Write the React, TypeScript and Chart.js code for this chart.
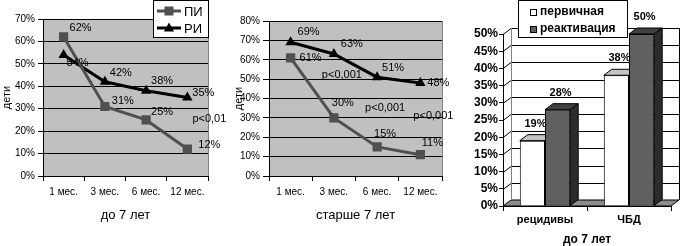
import React, { useEffect, useRef } from 'react';
import { Chart, registerables } from 'chart.js';

Chart.register(...registerables);

const FONT = "'Liberation Sans', Arial, Helvetica, sans-serif";

// ---------------- data ----------------
const LINE_CATEGORIES = ['1 мес.', '3 мес.', '6 мес.', '12 мес.'];
const SERIES_NAMES = ['ПИ', 'РИ'];
const UNDER7_PI = [62, 31, 25, 12];
const UNDER7_RI = [54, 42, 38, 35];
const OVER7_PI = [61, 30, 15, 11];
const OVER7_RI = [69, 63, 51, 48];
const UNDER7_PVALUES = ['p<0,01'];
const OVER7_PVALUES = ['p<0,001', 'p<0,001', 'p<0,001'];
const UNDER7_TICKS_MAX = 70;
const OVER7_TICKS_MAX = 80;
const Y_TITLE = 'дети';
const UNDER7_TITLE = 'до 7 лет';
const OVER7_TITLE = 'старше 7 лет';

const BAR_CATEGORIES = ['рецидивы', 'ЧБД'];
const BAR_SERIES = ['первичная', 'реактивация'];
const PRIMARY = [19, 38];
const REACTIVATION = [28, 50];
const BAR_TITLE = 'до 7 лет';
const BAR_TICKS_MAX = 50;

// ---------------- label placement (pixel offsets from the points) ----------------
const UNDER7_PI_OFF = [[17, -9], [18, -6], [16, -8], [22, -4]];
const UNDER7_RI_OFF = [[14, 8], [16, -9], [16, -10], [16, -5]];
const OVER7_PI_OFF = [[20, 0], [9, -15], [8, -13], [12, -12]];
const OVER7_RI_OFF = [[18, -10], [18, -10], [16, -9], [18, 0]];
// p-value anchors: category index, value on y, x shift
const UNDER7_P_POS = [{ i: 3, v: 25.4, dx: 22 }];
const OVER7_P_POS = [
  { i: 1, v: 52, dx: 8 },
  { i: 2, v: 35, dx: 8 },
  { i: 3, v: 31, dx: 13 },
];

const PI_COLOR = '#505050';
const RI_COLOR = '#000000';
const PLOT_BG = '#c0c0c0';

function drawMarker(ctx: CanvasRenderingContext2D, style: string, x: number, y: number, color: string) {
  ctx.fillStyle = color;
  if (style === 'rect') {
    ctx.fillRect(x - 4.5, y - 4.5, 9, 9);
  } else {
    ctx.beginPath();
    ctx.moveTo(x, y - 5.5);
    ctx.lineTo(x + 5, y + 3.5);
    ctx.lineTo(x - 5, y + 3.5);
    ctx.closePath();
    ctx.fill();
  }
}

type LineProps = {
  left: number;
  width: number;
  padTop: number;
  padRight: number;
  yWidth: number;
  tickLen: number;
  titlePad: number;
  max: number;
  title: string;
  pi: number[];
  ri: number[];
  piOff: number[][];
  riOff: number[][];
  pTexts: string[];
  pPos: { i: number; v: number; dx: number }[];
  legend?: { x: number; y: number; w: number; h: number };
};

function LinePanel(p: LineProps) {
  const ref = useRef<HTMLCanvasElement>(null);
  useEffect(() => {
    const canvas = ref.current!;
    const plugin = {
      id: 'lineDecor',
      beforeDraw(c: any) {
        const { ctx, chartArea: a } = c;
        ctx.save();
        ctx.fillStyle = PLOT_BG;
        ctx.fillRect(a.left, a.top, a.right - a.left, a.bottom - a.top);
        ctx.restore();
      },
      afterDatasetsDraw(c: any) {
        const { ctx, chartArea: a } = c;
        ctx.save();
        ctx.strokeStyle = '#808080';
        ctx.lineWidth = 1;
        ctx.beginPath();
        ctx.moveTo(Math.round(a.right) + 0.5, a.top);
        ctx.lineTo(Math.round(a.right) + 0.5, a.bottom);
        ctx.stroke();
        ctx.font = `11px ${FONT}`;
        ctx.fillStyle = '#000';
        ctx.textAlign = 'center';
        ctx.textBaseline = 'middle';
        [p.piOff, p.riOff].forEach((offs, di) => {
          const meta = c.getDatasetMeta(di);
          meta.data.forEach((pt: any, i: number) => {
            const v = c.data.datasets[di].data[i];
            ctx.fillText(v + '%', pt.x + offs[i][0], pt.y + offs[i][1]);
          });
        });
        p.pTexts.forEach((t, k) => {
          const pos = p.pPos[k];
          const x = c.scales.x.getPixelForValue(pos.i) + pos.dx;
          const y = c.scales.y.getPixelForValue(pos.v);
          ctx.fillText(t, x, y);
        });
        ctx.restore();
      },
      afterDraw(c: any) {
        if (!p.legend) return;
        const { ctx } = c;
        const L = p.legend;
        ctx.save();
        ctx.fillStyle = '#fff';
        ctx.fillRect(L.x, L.y, L.w, L.h);
        ctx.strokeStyle = '#000';
        ctx.lineWidth = 1;
        ctx.strokeRect(L.x + 0.5, L.y + 0.5, L.w - 1, L.h - 1);
        ctx.font = `13px ${FONT}`;
        ctx.textAlign = 'left';
        ctx.textBaseline = 'middle';
        c.data.datasets.forEach((ds: any, i: number) => {
          const yy = L.y + 11 + i * 17;
          ctx.strokeStyle = ds.borderColor;
          ctx.lineWidth = 3;
          ctx.beginPath();
          ctx.moveTo(L.x + 4, yy);
          ctx.lineTo(L.x + 28, yy);
          ctx.stroke();
          drawMarker(ctx, ds.pointStyle, L.x + 16, yy, ds.borderColor);
          ctx.fillStyle = '#000';
          ctx.fillText(ds.label, L.x + 31, yy + 1);
        });
        ctx.restore();
      },
    };
    const chart = new Chart(canvas, {
      type: 'line',
      data: {
        labels: LINE_CATEGORIES,
        datasets: [
          {
            label: SERIES_NAMES[0],
            data: p.pi,
            borderColor: PI_COLOR,
            backgroundColor: PI_COLOR,
            borderWidth: 3,
            pointStyle: 'rect',
            pointRadius: 6.5,
            pointBorderWidth: 0,
            pointBackgroundColor: PI_COLOR,
            tension: 0,
          },
          {
            label: SERIES_NAMES[1],
            data: p.ri,
            borderColor: RI_COLOR,
            backgroundColor: RI_COLOR,
            borderWidth: 3,
            pointStyle: 'triangle',
            pointRadius: 6,
            pointBorderWidth: 0,
            pointBackgroundColor: RI_COLOR,
            tension: 0,
          },
        ],
      },
      options: {
        responsive: false,
        animation: false,
        devicePixelRatio: 1,
        layout: { padding: { top: p.padTop, right: p.padRight, left: 0, bottom: 0 } },
        plugins: { legend: { display: false }, tooltip: { enabled: false }, title: { display: false } },
        scales: {
          x: {
            offset: true,
            grid: { display: true, drawOnChartArea: false, drawTicks: true, tickLength: 5, color: '#000', offset: true },
            border: { color: '#000', width: 1 },
            ticks: { color: '#000', font: { size: 10, family: FONT }, padding: 5, maxRotation: 0, autoSkip: false },
            title: {
              display: true,
              text: p.title,
              color: '#000',
              font: { size: 13, family: FONT },
              padding: { top: 0, bottom: 23 },
            },
            afterFit: (s: any) => {
              s.height = 70;
            },
          },
          y: {
            min: 0,
            max: p.max,
            ticks: {
              stepSize: 10,
              autoSkip: false,
              color: '#000',
              font: { size: 10, family: FONT },
              padding: 3,
              callback: (v: any) => v + '%',
            },
            grid: { color: '#000', lineWidth: 1, tickLength: p.tickLen, drawTicks: true },
            border: { color: '#000', width: 1 },
            title: {
              display: true,
              text: Y_TITLE,
              color: '#000',
              font: { size: 11, family: FONT },
              padding: { top: p.titlePad, bottom: 0 },
            },
            afterFit: (s: any) => {
              s.width = p.yWidth;
            },
          },
        },
      } as any,
      plugins: [plugin],
    });
    return () => chart.destroy();
  }, []);
  return (
    <canvas
      ref={ref}
      width={p.width}
      height={246}
      style={{ position: 'absolute', left: p.left, top: 0, width: p.width, height: 246 }}
    />
  );
}

const DX = 8;
const DY = 6;

function BarPanel() {
  const ref = useRef<HTMLCanvasElement>(null);
  useEffect(() => {
    const canvas = ref.current!;
    const faces = [
      { top: '#c4c4c4', side: '#a0a0a0' },
      { top: '#404040', side: '#2c2c2c' },
    ];
    const plugin = {
      id: 'bar3d',
      beforeDatasetsDraw(c: any) {
        const { ctx, chartArea: a, scales } = c;
        const y = scales.y;
        ctx.save();
        ctx.lineWidth = 1;
        ctx.strokeStyle = '#000';
        // floor
        ctx.beginPath();
        ctx.moveTo(a.left, a.bottom);
        ctx.lineTo(a.left + DX, a.bottom - DY);
        ctx.lineTo(a.right + DX, a.bottom - DY);
        ctx.lineTo(a.right, a.bottom);
        ctx.closePath();
        ctx.fillStyle = '#8c8c8c';
        ctx.fill();
        ctx.stroke();
        // back wall grid
        y.ticks.forEach((t: any) => {
          if (t.value <= 0) return;
          const py = Math.round(y.getPixelForValue(t.value)) + 0.5;
          ctx.beginPath();
          ctx.moveTo(a.left, py);
          ctx.lineTo(a.left + DX, py - DY);
          ctx.lineTo(a.right + DX, py - DY);
          ctx.stroke();
        });
        // wall edges
        ctx.beginPath();
        ctx.moveTo(Math.round(a.right + DX) + 0.5, a.top - DY);
        ctx.lineTo(Math.round(a.right + DX) + 0.5, a.bottom - DY);
        ctx.stroke();
        ctx.strokeStyle = '#808080';
        ctx.beginPath();
        ctx.moveTo(Math.round(a.left + DX) + 0.5, a.top - DY);
        ctx.lineTo(Math.round(a.left + DX) + 0.5, a.bottom - DY);
        ctx.stroke();
        ctx.restore();
      },
      afterDatasetDraw(c: any, args: any) {
        const { ctx } = c;
        const idx = args.index;
        const last = idx === c.data.datasets.length - 1;
        const f = faces[idx];
        args.meta.data.forEach((bar: any) => {
          const { x, y, base, width } = bar.getProps(['x', 'y', 'base', 'width'], true);
          const l = x - width / 2;
          const r = x + width / 2;
          ctx.save();
          if (!last) {
            ctx.beginPath();
            ctx.rect(0, 0, r, c.height);
            ctx.clip();
          }
          ctx.lineWidth = 1;
          ctx.strokeStyle = '#000';
          ctx.beginPath();
          ctx.moveTo(l, y);
          ctx.lineTo(l + DX, y - DY);
          ctx.lineTo(r + DX, y - DY);
          ctx.lineTo(r, y);
          ctx.closePath();
          ctx.fillStyle = f.top;
          ctx.fill();
          ctx.stroke();
          ctx.beginPath();
          ctx.moveTo(r, y);
          ctx.lineTo(r + DX, y - DY);
          ctx.lineTo(r + DX, base - DY);
          ctx.lineTo(r, base);
          ctx.closePath();
          ctx.fillStyle = f.side;
          ctx.fill();
          ctx.stroke();
          ctx.restore();
        });
      },
      afterDatasetsDraw(c: any) {
        const { ctx } = c;
        ctx.save();
        ctx.font = `bold 11px ${FONT}`;
        ctx.fillStyle = '#000';
        ctx.textAlign = 'center';
        ctx.textBaseline = 'middle';
        c.data.datasets.forEach((ds: any, di: number) => {
          c.getDatasetMeta(di).data.forEach((bar: any, i: number) => {
            ctx.fillText(ds.data[i] + '%', bar.x + DX / 2 - 1, bar.y - 17);
          });
        });
        ctx.restore();
      },
      afterDraw(c: any) {
        const { ctx } = c;
        const L = { x: 58, y: 0, w: 110, h: 38 };
        ctx.save();
        ctx.fillStyle = '#fff';
        ctx.fillRect(L.x, L.y, L.w, L.h);
        ctx.strokeStyle = '#000';
        ctx.lineWidth = 1;
        ctx.strokeRect(L.x + 0.5, L.y + 0.5, L.w - 1, L.h - 1);
        ctx.font = `bold 12px ${FONT}`;
        ctx.textAlign = 'left';
        ctx.textBaseline = 'middle';
        c.data.datasets.forEach((ds: any, i: number) => {
          const yy = 12 + i * 17;
          ctx.fillStyle = ds.backgroundColor;
          ctx.fillRect(L.x + 12, yy - 3, 6, 6);
          ctx.strokeRect(L.x + 12.5, yy - 2.5, 6, 6);
          ctx.fillStyle = '#000';
          ctx.fillText(ds.label, L.x + 22, yy);
        });
        ctx.restore();
      },
    };
    const chart = new Chart(canvas, {
      type: 'bar',
      data: {
        labels: BAR_CATEGORIES,
        datasets: [
          {
            label: BAR_SERIES[0],
            data: PRIMARY,
            backgroundColor: '#ffffff',
            borderColor: '#000',
            borderWidth: 1,
            categoryPercentage: 0.6,
            barPercentage: 1,
          },
          {
            label: BAR_SERIES[1],
            data: REACTIVATION,
            backgroundColor: '#606060',
            borderColor: '#000',
            borderWidth: 1,
            categoryPercentage: 0.6,
            barPercentage: 1,
          },
        ],
      },
      options: {
        responsive: false,
        animation: false,
        devicePixelRatio: 1,
        layout: { padding: { top: 34, right: 13, left: 0, bottom: 0 } },
        plugins: { legend: { display: false }, tooltip: { enabled: false } },
        scales: {
          x: {
            grid: { display: true, drawOnChartArea: false, drawTicks: true, tickLength: 5, color: '#000', offset: true },
            border: { color: '#000', width: 1 },
            ticks: { color: '#000', font: { size: 11, weight: 'bold', family: FONT }, padding: 2, maxRotation: 0 },
            title: {
              display: true,
              text: BAR_TITLE,
              color: '#000',
              font: { size: 12, weight: 'bold', family: FONT, lineHeight: 1 },
              padding: { top: 0, bottom: 0 },
            },
            afterFit: (s: any) => {
              s.height = 40;
            },
          },
          y: {
            min: 0,
            max: BAR_TICKS_MAX,
            ticks: {
              stepSize: 5,
              autoSkip: false,
              color: '#000',
              font: { size: 12, weight: 'bold', family: FONT },
              padding: 1,
              callback: (v: any) => v + '%',
            },
            grid: { drawOnChartArea: false, drawTicks: true, tickLength: 4, color: '#000' },
            border: { color: '#000', width: 1 },
            afterFit: (s: any) => {
              s.width = 43;
            },
          },
        },
      } as any,
      plugins: [plugin],
    });
    return () => chart.destroy();
  }, []);
  return (
    <canvas
      ref={ref}
      width={224}
      height={246}
      style={{ position: 'absolute', left: 460, top: 0, width: 224, height: 246 }}
    />
  );
}

export default function App() {
  return (
    <div
      style={{
        position: 'absolute',
        left: 0,
        top: 0,
        width: 684,
        height: 246,
        background: '#fff',
        overflow: 'hidden',
      }}
    >
      <LinePanel
        left={0}
        width={230}
        padTop={19}
        padRight={22}
        yWidth={43}
        tickLen={5}
        titlePad={0}
        max={UNDER7_TICKS_MAX}
        title={UNDER7_TITLE}
        pi={UNDER7_PI}
        ri={UNDER7_RI}
        piOff={UNDER7_PI_OFF}
        riOff={UNDER7_RI_OFF}
        pTexts={UNDER7_PVALUES}
        pPos={UNDER7_P_POS}
        legend={{ x: 153, y: 0, w: 56, h: 38 }}
      />
      <LinePanel
        left={230}
        width={230}
        padTop={21}
        padRight={18}
        yWidth={39}
        tickLen={6}
        titlePad={2.4}
        max={OVER7_TICKS_MAX}
        title={OVER7_TITLE}
        pi={OVER7_PI}
        ri={OVER7_RI}
        piOff={OVER7_PI_OFF}
        riOff={OVER7_RI_OFF}
        pTexts={OVER7_PVALUES}
        pPos={OVER7_P_POS}
      />
      <BarPanel />
    </div>
  );
}
